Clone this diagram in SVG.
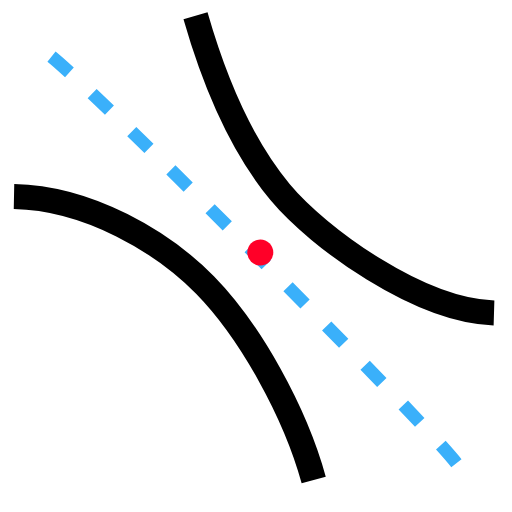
<svg xmlns="http://www.w3.org/2000/svg" width="512" height="512" viewBox="0 0 512 512">
<style>
.branch{fill:none;stroke:#000;stroke-width:25;stroke-linecap:butt}
.axis{fill:none;stroke:#3AB0FA;stroke-width:13;stroke-dasharray:24 30.9}
</style>
<rect width="512" height="512" fill="#fff"/>
<g id="connectors">
<path id="axis" class="axis" pathLength="573" d="M51.5 56.6 C99.7 95.6 418.2 414.4 456.4 463.3"/>
</g>
<g id="upper-branch">
<path class="branch" d="M195.5 15.8 C214.8 83.1 241.6 145.9 280 192 C318.4 238.1 419 310.75 494 313"/>
</g>
<g id="lower-branch">
<path class="branch" d="M14 196.5 C89 198 163 242.2 205 285 C250.5 331.4 295.2 412.5 313.7 480"/>
</g>
<g id="center">
<circle cx="260.3" cy="252.5" r="13" fill="#FF0028"/>
</g>
</svg>
